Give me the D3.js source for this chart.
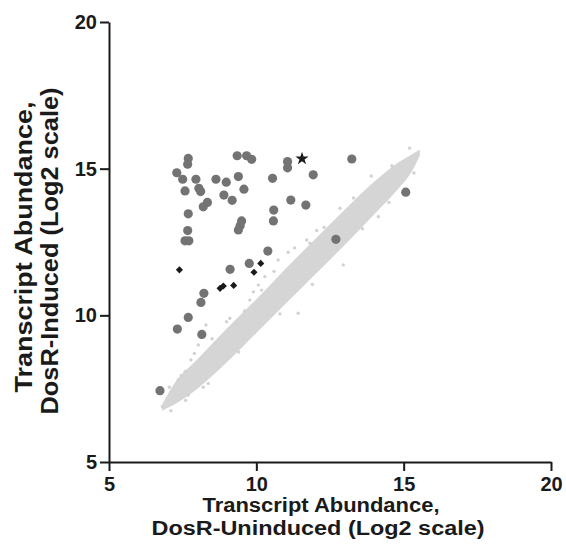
<!DOCTYPE html>
<html>
<head>
<meta charset="utf-8">
<script src="https://cdn.jsdelivr.net/npm/d3@7"></script>
<style>
  body { margin: 0; background: #fff; }
  text { font-family: "Liberation Sans", Arial, sans-serif; font-weight: bold; fill: #1a1a1a; }
</style>
</head>
<body>
<div id="chart"></div>
<script>
// axis ticks
const xTicks = [5, 10, 15, 20];
const yTicks = [5, 10, 15, 20];

// DosR regulon genes (dark grey circles)
const regX = [7.69, 7.67, 7.30, 7.50, 7.95, 8.05, 7.58, 8.11, 8.63, 8.98, 9.39, 9.35, 9.67, 9.84,
  9.58, 8.90, 9.18, 8.34, 8.20, 7.69, 9.50, 9.45, 9.39, 7.67, 7.58, 7.71, 10.55, 11.06, 11.06,
  11.93, 11.17, 11.68, 10.59, 10.58, 10.39, 9.76, 9.11, 8.22, 8.12, 7.69, 12.70, 13.24, 15.07,
  7.32, 8.15, 6.73];
const regY = [15.35, 15.15, 14.86, 14.64, 14.64, 14.33, 14.24, 14.22, 14.64, 14.54, 14.73, 15.44, 15.44, 15.32,
  14.30, 14.10, 13.92, 13.85, 13.70, 13.46, 13.22, 13.05, 12.91, 12.89, 12.54, 12.54, 14.67, 15.24, 15.03,
  14.79, 13.93, 13.76, 13.59, 13.22, 12.19, 11.77, 11.57, 10.75, 10.44, 9.93, 12.59, 15.33, 14.20,
  9.53, 9.35, 7.43];

// black diamonds
const diaX = [7.39, 10.15, 9.92, 8.77, 8.88, 9.23];
const diaY = [11.55, 11.77, 11.47, 10.92, 11.00, 11.02];

// star
const starX = [11.55];
const starY = [15.34];

// dense cloud of all other genes (outline of the band)
const bandX    = [6.8, 7.2, 8.0, 9.0, 10.0, 11.0, 12.0, 13.0, 14.0, 14.8, 15.3, 15.55];
const bandLow  = [6.75, 6.95, 7.5, 8.4, 9.4, 10.4, 11.4, 12.4, 13.45, 14.3, 14.95, 15.45];
const bandHigh = [6.95, 7.65, 8.5, 9.55, 10.55, 11.6, 12.6, 13.6, 14.55, 15.2, 15.5, 15.65];

// scattered genes just outside the band
const looseX = [8.29, 8.03, 7.78, 7.58, 7.35, 8.99, 9.33, 7.69, 6.81, 8.71, 8.37, 12.05, 11.71, 11.82,
  11.08, 10.74, 10.29, 10.07, 10.18, 9.78, 12.95, 11.42, 14.14, 12.84,
  7.05, 7.45, 7.9, 8.5, 8.6, 9.1, 9.6, 9.9, 10.6, 11.3, 12.3, 13.3, 13.9, 14.6, 15.2,
  7.1, 7.6, 8.2, 9.4, 10.8, 11.9, 13.6, 14.5, 15.35];
const looseY = [9.67, 8.99, 8.48, 8.08, 7.80, 9.78, 9.73, 7.28, 6.89, 8.25, 7.68, 12.89, 12.57, 12.46,
  12.15, 11.89, 11.32, 11.03, 10.86, 10.52, 11.72, 10.07, 13.36, 13.65,
  7.55, 7.95, 8.7, 9.2, 9.05, 9.9, 10.15, 10.8, 11.5, 12.3, 13.0, 14.0, 14.75, 15.1, 15.7,
  6.75, 7.1, 7.55, 8.75, 10.05, 11.05, 12.95, 13.85, 14.85];

const width = 566, height = 558;

const svg = d3.select("#chart").append("svg")
  .attr("width", width)
  .attr("height", height);

const xScale = d3.scaleLinear().domain([5, 20]).range([109, 551]);
const yScale = d3.scaleLinear().domain([5, 20]).range([462, 22]);

// cloud
const band = bandX.map((x, i) => ({ x: x, lo: bandLow[i], hi: bandHigh[i] }));
const area = d3.area()
  .x(d => xScale(d.x))
  .y0(d => yScale(d.lo))
  .y1(d => yScale(d.hi))
  .curve(d3.curveMonotoneX);

svg.append("path")
  .datum(band)
  .attr("d", area)
  .attr("fill", "#d5d5d5");

svg.selectAll("circle.loose")
  .data(looseX.map((x, i) => [x, looseY[i]]))
  .join("circle")
  .attr("class", "loose")
  .attr("cx", d => xScale(d[0]))
  .attr("cy", d => yScale(d[1]))
  .attr("r", 1.7)
  .attr("fill", "#d2d2d2");

// regulon circles
svg.selectAll("circle.reg")
  .data(regX.map((x, i) => [x, regY[i]]))
  .join("circle")
  .attr("class", "reg")
  .attr("cx", d => xScale(d[0]))
  .attr("cy", d => yScale(d[1]))
  .attr("r", 4.6)
  .attr("fill", "#737373");

svg.selectAll("path.dia")
  .data(diaX.map((x, i) => [x, diaY[i]]))
  .join("path")
  .attr("class", "dia")
  .attr("transform", d => `translate(${xScale(d[0])},${yScale(d[1])})`)
  .attr("d", d3.symbol(d3.symbolDiamond2, 32))
  .attr("fill", "#1a1a1a");

svg.selectAll("path.star")
  .data(starX.map((x, i) => [x, starY[i]]))
  .join("path")
  .attr("class", "star")
  .attr("transform", d => `translate(${xScale(d[0])},${yScale(d[1])})`)
  .attr("d", d3.symbol(d3.symbolStar, 55))
  .attr("fill", "#1a1a1a");

// axes
const xAxis = svg.append("g")
  .attr("transform", "translate(0,462)")
  .call(d3.axisBottom(xScale).tickValues(xTicks).tickSize(9).tickSizeOuter(0).tickPadding(6));

const yAxis = svg.append("g")
  .attr("transform", "translate(109,0)")
  .call(d3.axisLeft(yScale).tickValues(yTicks).tickSize(9).tickSizeOuter(0).tickPadding(3));

[xAxis, yAxis].forEach(a => {
  a.selectAll("path, line").attr("stroke", "#1a1a1a").attr("stroke-width", 2);
  a.selectAll("text").attr("font-size", 20).attr("fill", "#1a1a1a")
    .style("font-family", "'Liberation Sans', Arial, sans-serif").style("font-weight", "bold");
});

// axis titles
svg.append("text").attr("x", 321).attr("y", 512).attr("text-anchor", "middle")
  .attr("font-size", 20).attr("textLength", 237).attr("lengthAdjust", "spacingAndGlyphs")
  .text("Transcript Abundance,");
svg.append("text").attr("x", 318).attr("y", 535).attr("text-anchor", "middle")
  .attr("font-size", 20).attr("textLength", 333).attr("lengthAdjust", "spacingAndGlyphs")
  .text("DosR-Uninduced (Log2 scale)");

svg.append("text").attr("transform", "translate(32,247) rotate(-90)").attr("text-anchor", "middle")
  .attr("font-size", 23).attr("textLength", 291).attr("lengthAdjust", "spacingAndGlyphs")
  .text("Transcript Abundance,");
svg.append("text").attr("transform", "translate(58,251) rotate(-90)").attr("text-anchor", "middle")
  .attr("font-size", 23).attr("textLength", 327).attr("lengthAdjust", "spacingAndGlyphs")
  .text("DosR-Induced (Log2 scale)");
</script>
</body>
</html>
